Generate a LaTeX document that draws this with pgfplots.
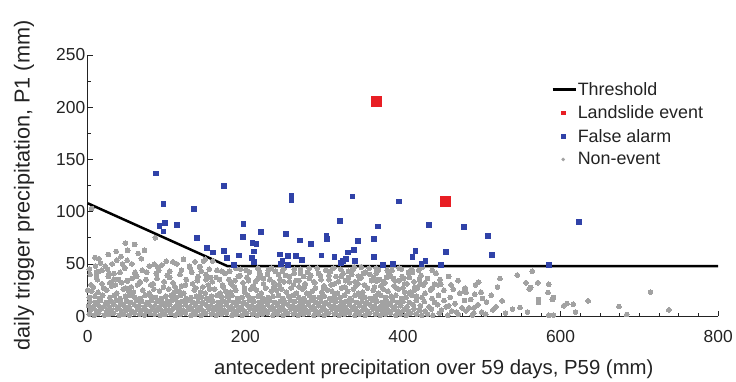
\documentclass[border=0pt]{standalone}
\usepackage{fontspec}
\setmainfont{Liberation Sans}
\usepackage{pgfplots}
\pgfplotsset{compat=1.18}
\definecolor{ngray}{RGB}{162,162,162}
\definecolor{fblue}{RGB}{48,66,168}
\definecolor{lred}{RGB}{232,30,36}
\definecolor{axcol}{RGB}{35,35,35}
\begin{document}
\begin{tikzpicture}
\begin{axis}[
  scale only axis, width=632bp, height=262bp,
  xmin=0, xmax=800, ymin=0, ymax=250,
  axis lines=left, axis line style={-, axcol, line width=0.8bp},
  xtick={0,200,...,800}, ytick={0,50,...,250},
  minor x tick num=7, minor y tick num=1,
  tick align=inside, major tick length=5bp, minor tick length=3bp,
  tick style={axcol, line width=0.7bp},
  ticklabel style={font=\fontsize{17.5}{20}\selectfont, text=axcol},
  /pgf/number format/assume math mode=true,
  xticklabel style={yshift=-11bp},
  yticklabel style={xshift=1bp},
  xlabel={antecedent precipitation over 59 days, P59 (mm)},
  ylabel={daily trigger precipitation, P1 (mm)},
  xlabel style={font=\fontsize{20.5}{24}\selectfont, text=axcol, at={([yshift=-58bp]axis description cs:0.5,0)}, anchor=base, xshift=31bp},
  ylabel style={font=\fontsize{21.8}{25}\selectfont, text=axcol, at={([xshift=-64bp]axis description cs:0,0.5)}, anchor=center},
  clip=false,
  legend style={at={(axis cs:588,225)}, anchor=north west, draw=none, fill=none,
    inner sep=0pt, font=\fontsize{18}{21}\selectfont, row sep=7bp,
    nodes={inner sep=1bp, text=axcol}},
  legend cell align=left,
]
\addlegendimage{legend image code/.code={\draw[black, line width=2.5bp] (0bp,0bp) -- (23bp,0bp);}}
\addlegendentry{Threshold}
\addlegendimage{legend image code/.code={\fill[lred] (9bp,-1.7bp) rectangle (12.4bp,1.7bp);}}
\addlegendentry{Landslide event}
\addlegendimage{legend image code/.code={\fill[fblue] (9bp,-1.7bp) rectangle (12.4bp,1.7bp);}}
\addlegendentry{False alarm}
\addlegendimage{legend image code/.code={\fill[ngray] (10.7bp,0bp) circle (1.6bp);}}
\addlegendentry{Non-event}

% Non-event
\addplot[forget plot, only marks, ngray, mark=*, mark size=2.4pt, mark options={draw=ngray, fill=ngray, line width=0pt}] coordinates {
(2,2)(8,1)(14,3)(21,1)(27,2)(33,3)(40,1)(46,2)(53,1)(59,3)(66,2)(72,1)(79,3)(85,2)(92,1)(98,2)(105,3)(111,1)(118,2)(124,3)(131,1)(137,2)(144,1)(150,3)(157,2)(163,1)(170,2)(176,3)(183,1)(189,2)(196,1)(202,3)(209,2)(215,1)(222,2)(228,3)(235,1)(241,2)(248,1)(254,3)(261,2)(267,1)(274,2)(280,3)(287,1)(293,2)(300,1)(306,3)(313,2)(319,1)(326,2)(332,3)(339,1)(345,2)(352,1)(358,3)(365,2)(371,1)(378,2)(384,3)(391,1)(397,2)(404,1)(410,3)(417,2)(424,1)(431,2)(438,1)(446,3)(457,1)(470,2)(488,1)
(4,6)(11,5)(17,7)(24,5)(30,6)(37,7)(43,5)(50,6)(56,5)(63,7)(69,6)(76,5)(82,7)(89,6)(95,5)(102,6)(108,7)(115,5)(121,6)(128,7)(134,5)(141,6)(147,5)(154,7)(160,6)(167,5)(173,6)(180,7)(186,5)(193,6)(199,5)(206,7)(212,6)(219,5)(225,6)(232,7)(238,5)(245,6)(251,5)(258,7)(264,6)(271,5)(277,6)(284,7)(290,5)(297,6)(303,5)(310,7)(316,6)(323,5)(329,6)(336,7)(342,5)(349,6)(355,5)(362,7)(368,6)(375,5)(381,6)(388,7)(394,5)(401,6)(407,5)(414,7)(421,6)(428,5)(436,7)(449,6)(462,5)
(1,10)(7,9)(13,11)(20,9)(26,10)(33,11)(39,9)(46,10)(52,9)(59,11)(65,10)(72,9)(78,11)(85,10)(91,9)(98,10)(104,11)(111,9)(117,10)(124,11)(130,9)(137,10)(143,9)(150,11)(156,10)(163,9)(169,10)(176,11)(182,9)(189,10)(195,9)(202,11)(208,10)(215,9)(221,10)(228,11)(234,9)(241,10)(247,9)(254,11)(260,10)(267,9)(273,10)(280,11)(286,9)(293,10)(299,9)(306,11)(312,10)(319,9)(325,10)(332,11)(338,9)(345,10)(351,9)(358,11)(364,10)(371,9)(377,10)(384,11)(390,9)(397,10)(405,9)(413,11)(422,10)(433,9)(444,11)(458,10)(475,8)
(3,14)(10,13)(16,15)(23,13)(29,14)(36,15)(42,13)(49,14)(55,13)(62,15)(68,14)(75,13)(81,15)(88,14)(94,13)(101,14)(107,15)(114,13)(120,14)(127,15)(133,13)(140,14)(146,13)(153,15)(159,14)(166,13)(172,14)(179,15)(185,13)(192,14)(198,13)(205,15)(211,14)(218,13)(224,14)(231,15)(237,13)(244,14)(250,13)(257,15)(263,14)(270,13)(276,14)(283,15)(289,13)(296,14)(302,13)(309,15)(315,14)(322,13)(328,14)(335,15)(341,13)(348,14)(354,13)(361,15)(367,14)(374,13)(380,14)(387,15)(393,13)(400,14)(408,13)(417,15)(427,14)(440,13)(452,15)
(2,18)(9,19)(15,17)(28,18)(34,20)(41,17)(48,19)(60,18)(67,17)(73,20)(86,18)(93,17)(99,19)(112,18)(118,20)(125,17)(138,19)(144,18)(151,17)(164,20)(170,18)(177,19)(190,17)(196,18)(203,20)(216,19)(222,17)(229,18)(242,20)(248,17)(255,19)(268,18)(274,17)(281,20)(294,18)(300,19)(307,17)(320,18)(326,20)(333,17)(346,19)(352,18)(359,17)(372,20)(378,18)(385,19)(398,17)(404,18)(411,20)(424,18)(437,17)(19,20)(54,20)(80,19)(106,20)(131,18)(157,19)(183,20)(209,17)(235,19)(261,20)(287,18)(313,19)(339,20)(365,19)(391,20)(417,19)
(5,24)(13,23)(24,25)(37,22)(45,26)(58,23)(70,25)(78,22)(91,24)(103,26)(110,23)(122,22)(135,25)(143,23)(155,26)(168,22)(175,24)(188,25)(199,23)(207,26)(220,22)(233,24)(240,25)(252,23)(265,22)(272,26)(285,24)(297,23)(304,25)(317,22)(330,24)(337,26)(349,23)(362,25)(369,22)(381,24)(394,26)(402,23)(414,25)(428,22)(0,25)(52,24)(84,26)(116,24)(149,22)(181,23)(214,25)(246,26)(278,22)(310,24)(343,22)(375,26)(408,22)(435,25)
(7,28)(18,31)(30,29)(43,32)(55,28)(66,33)(80,30)(96,28)(108,32)(119,29)(133,31)(146,28)(158,33)(171,30)(186,28)(197,32)(210,29)(223,31)(236,28)(249,33)(261,30)(275,28)(288,32)(300,29)(313,31)(326,28)(339,33)(351,30)(364,28)(377,32)(389,29)(402,31)(415,28)(428,32)(28,32)(66,32)(139,34)(204,34)(268,34)(332,32)(395,34)(445,30)
(11,38)(33,35)(39,35)(50,34)(62,38)(88,36)(101,39)(125,35)(140,38)(163,37)(179,35)(193,39)(216,36)(228,40)(244,35)(256,38)(281,36)(295,39)(306,35)(322,38)(345,36)(358,40)(370,35)(384,38)(408,37)(421,35)(60,41)(150,40)(270,41)(335,40)
(18,44)(11,42)(47,46)(60,42)(75,42)(87,41)(104,43)(119,44)(132,42)(142,47)(154,45)(170,43)(188,46)(201,44)(218,42)(233,46)(247,43)(262,45)(279,42)(291,46)(308,43)(321,45)(338,47)(352,42)(366,46)(380,44)(398,45)(412,42)(425,47)(437,44)
(153,30)(161,26)(167,35)(174,41)(182,31)(191,38)(199,27)(205,42)(213,33)(219,39)(226,27)(231,35)(238,43)(243,30)(251,39)(258,27)(264,34)(270,45)(276,31)(283,39)(289,27)(296,35)(302,44)(309,30)(315,38)(322,27)(327,34)(333,43)(340,29)(347,37)(355,27)(360,34)(366,41)(372,29)(379,37)(386,44)(392,27)(399,38)(405,31)(411,45)(418,27)(423,39)(431,36)(437,27)(442,41)
(156,37)(164,44)(172,28)(180,43)(187,34)(194,45)(202,37)(209,27)(216,46)(223,36)(229,44)(236,32)(242,40)(249,46)(256,33)(262,41)(268,28)(274,38)(281,46)(287,33)(293,41)(299,27)(306,39)(312,46)(318,33)(324,41)(331,37)(337,45)(343,31)(350,41)(357,46)(363,37)(369,44)(375,33)(382,41)(388,36)(395,46)(401,36)(407,42)(414,33)(420,44)(426,30)
(4,30)(12,35)(20,27)(26,38)(35,30)(41,42)(48,27)(56,36)(63,30)(69,44)(74,35)(83,31)(90,44)(97,33)(104,37)(111,28)(117,40)(124,30)(130,46)(137,27)(144,43)(150,35)(3,40)(22,48)(31,50)(16,51)(42,57)(56,50)(68,55)(78,48)(94,49)(113,50)(136,52)(64,60)(72,63)(26,59)(2,45)(44,50)
(47.7,70)(59.5,68.7)(50.6,63)(85.7,75)(37,53.7)(50,53.4)(9.7,48)(14,42.6)(33,40.7)(47,46.4)(84.4,49.6)(89,47)(99.6,52.5)(108,52)(121.5,54.4)(129,48)(142.6,47.4)(146.8,52.8)(149,54.4)(158.6,52.8)(5,103)(9,56)(14,55)(36,62)(25,45)(27,41)(0,24.8)(28.7,32)(50,33.7)(66,32.7)
(330.8,43)(343.4,38.5)(346.8,47)(366.7,33.7)(390,33.7)(400,27)(409,23)(421.5,30.5)(440,30.5)(448,30.5)(463.7,25.7)(478,24)
(445,20)(452,25)(460,18)(466,12)(472,22)(478,15)(484,8)(490,3)(455,9)(468,4)(479,27)(461,30)(447,35)(458,38)(470,34)(495,11)(505,2)(512,20)(520,28)(530,3)
(564,43)(545,39.4)(523,36)(496,32.7)(492,30)(556,32)(562,27.4)(560,26)(571,32)(585,30.5)(480,23)(491,21)(499,23)(486,16)(501,17)(506,13.6)(526,14.7)(518,9)(490,8)(480,5)(500,4)(514,6)(539,6.7)(548.5,8.3)(558,4)(572,16)(572,13)(584,22.6)(589.5,16)(591,18)(604,10)(608,12)(616,11.5)(619,4)(635,14.7)(585,1)(591,1)(674,9.2)(684,1.6)(714,23)(737.5,6)
};

% Threshold
\addplot[forget plot, black, line width=2.5bp] coordinates {(0,108) (177,48) (800,48)};

% False alarm
\addplot[forget plot, only marks, fblue, mark=square*, mark size=2.4pt, mark options={draw=fblue, fill=fblue, line width=0pt}] coordinates {
(86.5,136.5)(96,107)(91,86)(98,89)(96,81)(113.5,87)(134.6,102.7)(139,75)(151,65.5)(159,61)(173,124.7)(173,62.7)(177,56)(186,49)(191.5,58)(197.5,88.4)(197,76)(209,70)(214,69)(211,62)(208.5,56)(211,52)(220,80.5)(244,59)(247,53)(245,50)(252,78.5)(254,57.5)(254,48.7)(258.6,114.8)(258.6,111)(264,57.5)(269.6,72.5)(272,53.4)(283.5,69)(296.6,58)(303,76.6)(304,73.5)(313,57)(320,91.3)(321.5,51)(324,53)(327.5,54.4)(330,61)(337.6,63.6)(339,53)(342.6,71.6)(335.8,114.5)(363,56.3)(363.7,73.8)(368,85.9)(374.7,48.7)(387.7,50.3)(395,109.7)(412,56.3)(416,62.7)(423.6,50.3)(428.7,52.8)(433,87.5)(448,48.7)(455,61.7)(477,85)(508,77)(512.7,58.9)(585.7,49.3)(623,90.4)
};

% Landslide event
\addplot[forget plot, only marks, lred, mark=square*, mark size=5pt, mark options={draw=lred, fill=lred, line width=0pt}] coordinates {
(366.7,205)(454,109.4)
};
\end{axis}
\path (-88bp,-64bp) rectangle (648bp,317bp);
\end{tikzpicture}
\end{document}
